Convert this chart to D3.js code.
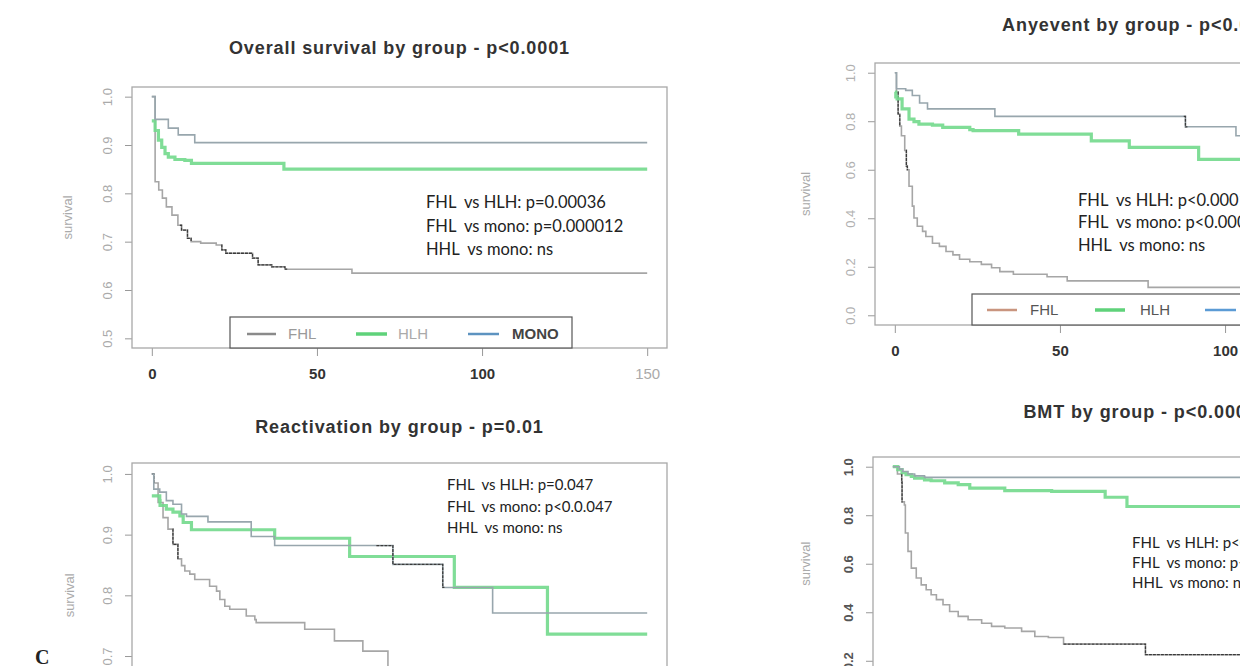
<!DOCTYPE html>
<html>
<head>
<meta charset="utf-8">
<script src="https://cdn.jsdelivr.net/npm/d3@7"></script>
<style>
  body { margin: 0; background: #fff; }
  svg { display: block; background: #fff; }
  .title { font-family: "Liberation Sans", Arial, sans-serif; font-weight: bold; font-size: 18px; letter-spacing: 0.9px; fill: #333; }
  .note { font-family: Lato, "Open Sans", sans-serif; fill: #222; white-space: pre; }
  .ylab { font-family: "Liberation Sans", Arial, sans-serif; font-size: 13px; fill: #aaa; }
  .axis text { font-family: "Liberation Sans", Arial, sans-serif; }
  .leg { font-family: "Liberation Sans", Arial, sans-serif; font-size: 15px; }
</style>
</head>
<body>
<svg id="chart" width="1240" height="666"></svg>
<script>
// ---- data (time in months, survival probability) ----
const timeTicks = [0, 50, 100, 150];
const groups = ['FHL', 'HLH', 'MONO'];

// Overall survival
const osFHL = [[0, 1], [1, 0.824], [2.1, 0.807], [3.2, 0.79], [4.4, 0.772], [6.1, 0.755], [7.9, 0.734], [9, 0.724],
  [10.8, 0.707], [11.9, 0.7], [14.8, 0.697], [19.5, 0.693], [21.2, 0.683], [22.4, 0.676], [30.5, 0.666],
  [32.2, 0.652], [36.3, 0.648], [40.3, 0.643], [60.6, 0.635], [150, 0.635]];
const osHLH = [[0, 0.95], [1, 0.93], [2, 0.91], [3, 0.895], [4, 0.882], [5, 0.875], [7, 0.87],
  [10, 0.868], [12, 0.862], [40, 0.85], [150, 0.85]];
const osMONO = [[0, 1], [1, 0.953], [5, 0.935], [8, 0.921], [13, 0.905], [150, 0.905]];
// stretches where dense censoring marks make the curve look dark
const osFHLDense = [[8.5, 12], [21, 41]];
const osNotes = ['FHL  vs HLH: p=0.00036', 'FHL  vs mono: p=0.000012', 'HHL  vs mono: ns'];

// Any event
const aeFHL = [[0, 1], [0.5, 0.92], [1, 0.83], [1.5, 0.78], [2, 0.74], [3, 0.68], [3.5, 0.615], [3.8, 0.6],
  [4.3, 0.532], [5.3, 0.45], [5.8, 0.401], [6.8, 0.367], [8.4, 0.346], [9.4, 0.325], [11.4, 0.297],
  [13.5, 0.284], [15.5, 0.263], [17.6, 0.249], [19.6, 0.231], [22.7, 0.221], [26.2, 0.21], [29.3, 0.196],
  [31.8, 0.18], [35.9, 0.169], [46.1, 0.159], [52.2, 0.142], [76.7, 0.115], [150, 0.115]];
const aeHLH = [[0, 0.92], [0.3, 0.9], [0.7, 0.892], [2.2, 0.851], [4.3, 0.809], [5.8, 0.798], [7.3, 0.788],
  [11.4, 0.784], [14.5, 0.775], [22.7, 0.765], [23.7, 0.761], [37.5, 0.747], [59.5, 0.719], [71, 0.692],
  [92, 0.643], [150, 0.643]];
const aeMONO = [[0, 1], [0.5, 0.934], [3.3, 0.927], [5.3, 0.906], [7.5, 0.875], [9.9, 0.851], [30.3, 0.82],
  [88, 0.777], [103.3, 0.74], [150, 0.74]];
const aeFHLDense = [[0.9, 1.6], [3.4, 3.9]];
const aeMONODense = [[87.5, 88.6]];
const aeNotes = ['FHL  vs HLH: p<0.0001', 'FHL  vs mono: p<0.0001', 'HHL  vs mono: ns'];

// Reactivation
const reFHL = [[0, 1], [0.6, 0.985], [1.9, 0.953], [3.4, 0.928], [4.9, 0.909], [6.4, 0.884], [7.9, 0.86],
  [9, 0.849], [10, 0.84], [11.5, 0.835], [13, 0.826], [17.5, 0.815], [19.6, 0.807], [20.6, 0.793],
  [22.1, 0.782], [23.6, 0.777], [28.6, 0.766], [31.2, 0.76], [31.6, 0.755], [46.3, 0.744], [55.3, 0.725],
  [63.9, 0.708], [71.5, 0.68]];
const reHLH = [[0, 0.964], [2.4, 0.956], [2.5, 0.948], [4.4, 0.942], [6.4, 0.937], [8.5, 0.931],
  [9.5, 0.92], [12, 0.908], [37.2, 0.894], [59.9, 0.864], [91.6, 0.813], [119.8, 0.736], [150, 0.736]];
const reMONO = [[0, 1], [0.6, 0.975], [2.4, 0.97], [4.4, 0.956], [6.4, 0.95], [9, 0.934], [10.5, 0.93],
  [17, 0.921], [30.1, 0.897], [37.2, 0.882], [73, 0.851], [88.1, 0.813], [103.2, 0.771], [150, 0.771]];
const reFHLDense = [[0, 0.7], [6.3, 8]];
const reMONODense = [[68, 88.6]];
const reNotes = ['FHL  vs HLH: p=0.047', 'FHL  vs mono: p<0.0.047', 'HHL  vs mono: ns'];

// BMT
const bmtFHL = [[0, 1], [1.4, 0.97], [2.7, 0.937], [2.8, 0.855], [3.5, 0.842], [3.8, 0.727], [4.6, 0.651],
  [5.6, 0.582], [7.1, 0.541], [8.6, 0.513], [10.1, 0.493], [11.6, 0.472], [13.2, 0.452], [15.2, 0.431],
  [17.2, 0.403], [19.8, 0.383], [22.8, 0.369], [26.9, 0.355], [29.9, 0.342], [33.9, 0.335], [39, 0.321],
  [43, 0.3], [47.1, 0.296], [51.7, 0.269], [76.5, 0.225], [150, 0.225]];
const bmtHLH = [[0, 1], [1.5, 0.988], [2.8, 0.975], [4, 0.967], [5.6, 0.96], [6.6, 0.953], [9.6, 0.946],
  [11.6, 0.942], [15.7, 0.933], [19.8, 0.926], [23.3, 0.912], [33.9, 0.901], [48.1, 0.898], [64.3, 0.874],
  [70.9, 0.836], [150, 0.836]];
const bmtMONO = [[0, 1], [2, 0.99], [3, 0.98], [4.6, 0.97], [6.6, 0.962], [9.6, 0.956], [150, 0.956]];
const bmtFHLDense = [[2.6, 3.0], [51.7, 150]];
const bmtNotes = ['FHL  vs HLH: p<0.0001', 'FHL  vs mono: p<0.0001', 'HHL  vs mono: ns'];

// ---- styles ----
const lineStyle = {
  FHL: { color: '#a6a6a6', width: 1.6 },
  HLH: { color: '#72d98c', width: 3.2 },
  MONO: { color: '#98a6ad', width: 1.6 }
};

const panels = [
  {
    id: 'os', title: 'Overall survival by group - p<0.0001', titleY: 54,
    box: { left: 132, right: 667, top: 87, bottom: 348 },
    yDomain: [0.48, 1.02], yTicks: [0.5, 0.6, 0.7, 0.8, 0.9, 1.0], tickColor: '#aaa', tickWeight: 'normal', ylabX: 72,
    series: { FHL: osFHL, HLH: osHLH, MONO: osMONO }, dense: { FHL: osFHLDense },
    notes: osNotes, noteX: 426, noteY: [202, 226, 249], noteSize: 16.5,
    legend: { top: 317, left: 230, right: 572, cy: 334,
      items: [
        { key: 'FHL', x1: 247, x2: 276, tx: 288, line: '#8a8a8a', text: '#9a9a9a' },
        { key: 'HLH', x1: 356, x2: 387, tx: 398, line: '#5fd27a', text: '#aaa' },
        { key: 'MONO', x1: 468, x2: 499, tx: 512, line: '#5d93c0', text: '#444' }
      ] }
  },
  {
    id: 'ae', title: 'Anyevent by group - p<0.0001', titleY: 31,
    box: { left: 875, right: 1410, top: 63, bottom: 325 },
    yDomain: [-0.04, 1.04], yTicks: [0, 0.2, 0.4, 0.6, 0.8, 1.0], tickColor: '#b0b0b0', tickWeight: 'normal', ylabX: 810,
    series: { FHL: aeFHL, HLH: aeHLH, MONO: aeMONO }, dense: { FHL: aeFHLDense, MONO: aeMONODense },
    notes: aeNotes, noteX: 1078, noteY: [200, 222, 245], noteSize: 16.5,
    legend: { top: 294, left: 972, right: 1420, cy: 310,
      items: [
        { key: 'FHL', x1: 987, x2: 1017, tx: 1030, line: '#c9957f', text: '#555' },
        { key: 'HLH', x1: 1095, x2: 1125, tx: 1140, line: '#5fd27a', text: '#555' },
        { key: 'MONO', x1: 1205, x2: 1236, tx: 1250, line: '#5b9bd5', text: '#444' }
      ] }
  },
  {
    id: 're', title: 'Reactivation by group - p=0.01', titleY: 433,
    box: { left: 132, right: 667, top: 463, bottom: 758 },
    yDomain: [0.532, 1.018], yTicks: [0.6, 0.7, 0.8, 0.9, 1.0], tickColor: '#aaa', tickWeight: 'normal', ylabX: 74,
    series: { FHL: reFHL, HLH: reHLH, MONO: reMONO }, dense: { FHL: reFHLDense, MONO: reMONODense },
    notes: reNotes, noteX: 447, noteY: [485, 507, 528], noteSize: 15
  },
  {
    id: 'bmt', title: 'BMT by group - p<0.0001', titleY: 418,
    box: { left: 873, right: 1408, top: 457, bottom: 719 },
    yDomain: [-0.04, 1.04], yTicks: [0.2, 0.4, 0.6, 0.8, 1.0], tickColor: '#555', tickWeight: 'bold', ylabX: 810,
    series: { FHL: bmtFHL, HLH: bmtHLH, MONO: bmtMONO }, dense: { FHL: bmtFHLDense },
    notes: bmtNotes, noteX: 1132, noteY: [543, 563, 583], noteSize: 15
  }
];

const svg = d3.select('#chart');
const defs = svg.append('defs');

panels.forEach(drawPanel);

// panel letter
svg.append('text')
  .attr('x', 35).attr('y', 664)
  .style('font-family', '"Liberation Serif", "DejaVu Serif", serif')
  .style('font-weight', 'bold').style('font-size', '20px').style('fill', '#222')
  .text('C');

// survival value just after time t on a step curve
function valueAt(data, t) {
  const i = d3.bisector((d) => d[0]).right(data, t);
  return data[Math.max(0, i - 1)][1];
}

function drawPanel(p) {
  const x = d3.scaleLinear().domain([-6, 156]).range([p.box.left, p.box.right]);
  const y = d3.scaleLinear().domain(p.yDomain).range([p.box.bottom, p.box.top]);
  const g = svg.append('g').attr('class', 'panel-' + p.id);

  defs.append('clipPath').attr('id', 'clip-' + p.id)
    .append('rect')
    .attr('x', p.box.left).attr('y', p.box.top)
    .attr('width', p.box.right - p.box.left).attr('height', p.box.bottom - p.box.top);

  // title
  g.append('text').attr('class', 'title')
    .attr('x', (p.box.left + p.box.right) / 2).attr('y', p.titleY)
    .attr('text-anchor', 'middle').text(p.title);

  // y axis, labels parallel to the axis
  const yAxis = g.append('g').attr('class', 'axis')
    .attr('transform', 'translate(' + p.box.left + ',0)')
    .call(d3.axisLeft(y).tickValues(p.yTicks).tickFormat(d3.format('.1f')).tickSize(7));
  yAxis.select('.domain').remove();
  yAxis.selectAll('line').attr('stroke', '#999');
  yAxis.selectAll('text')
    .attr('transform', 'rotate(-90)')
    .attr('x', 0).attr('y', -20).attr('dy', 0)
    .attr('text-anchor', 'middle')
    .style('font-size', '13px')
    .style('font-weight', p.tickWeight)
    .style('fill', p.tickColor);

  g.append('text').attr('class', 'ylab')
    .attr('transform', 'translate(' + p.ylabX + ',' + y((p.yTicks[0] + p.yTicks[p.yTicks.length - 1]) / 2) + ') rotate(-90)')
    .attr('text-anchor', 'middle').text('survival');

  // x axis
  const xAxis = g.append('g').attr('class', 'axis')
    .attr('transform', 'translate(0,' + p.box.bottom + ')')
    .call(d3.axisBottom(x).tickValues(timeTicks).tickSize(8).tickPadding(12));
  xAxis.select('.domain').remove();
  xAxis.selectAll('line').attr('stroke', '#999');
  xAxis.selectAll('text')
    .style('font-size', '15px')
    .style('font-weight', (d) => (d === 150 ? 'normal' : 'bold'))
    .style('fill', (d) => (d === 150 ? '#aaa' : '#333'));

  // plot box
  g.append('rect')
    .attr('x', p.box.left).attr('y', p.box.top)
    .attr('width', p.box.right - p.box.left).attr('height', p.box.bottom - p.box.top)
    .attr('fill', 'none').attr('stroke', '#a8a8a8').attr('stroke-width', 1.3);

  // curves
  const plot = g.append('g').attr('clip-path', 'url(#clip-' + p.id + ')');
  const line = d3.line().x((d) => x(d[0])).y((d) => y(d[1])).curve(d3.curveStepAfter);

  groups.forEach((key) => {
    const data = p.series[key];
    plot.append('path')
      .datum(data)
      .attr('d', line)
      .attr('fill', 'none')
      .attr('stroke', lineStyle[key].color)
      .attr('stroke-width', lineStyle[key].width)
      .attr('stroke-opacity', key === 'HLH' ? 0.9 : 1);

    // darker stretches where censoring marks pile up
    ((p.dense || {})[key] || []).forEach((r) => {
      const seg = [[r[0], valueAt(data, r[0])]]
        .concat(data.filter((d) => d[0] > r[0] && d[0] <= r[1]))
        .concat([[r[1], valueAt(data, r[1])]]);
      plot.append('path')
        .datum(seg)
        .attr('d', line)
        .attr('fill', 'none')
        .attr('stroke', '#3a3a3a')
        .attr('stroke-width', 1.3)
        .attr('stroke-dasharray', '3,1');
    });
  });

  // p-value notes
  g.selectAll('.note-' + p.id)
    .data(p.notes)
    .enter()
    .append('text')
    .attr('class', 'note')
    .style('font-size', p.noteSize + 'px')
    .attr('x', p.noteX)
    .attr('y', (d, i) => p.noteY[i])
    .attr('dy', '0.35em')
    .text((d) => d);

  // legend
  if (p.legend) {
    const L = p.legend;
    g.append('rect')
      .attr('x', L.left).attr('y', L.top)
      .attr('width', L.right - L.left).attr('height', p.box.bottom - L.top)
      .attr('fill', '#fff').attr('stroke', '#555').attr('stroke-width', 1.2);
    L.items.forEach((it) => {
      g.append('line')
        .attr('x1', it.x1).attr('x2', it.x2).attr('y1', L.cy).attr('y2', L.cy)
        .attr('stroke', it.line).attr('stroke-width', it.key === 'HLH' ? 3.5 : 2.5);
      g.append('text').attr('class', 'leg')
        .attr('x', it.tx).attr('y', L.cy).attr('dy', '0.35em')
        .style('fill', it.text).style('font-weight', it.key === 'MONO' ? 'bold' : 'normal')
        .text(it.key);
    });
  }
}
</script>
</body>
</html>
